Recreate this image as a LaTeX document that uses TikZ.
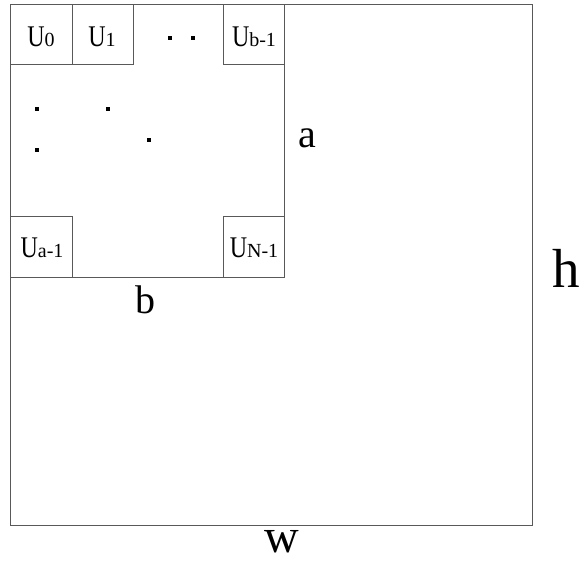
\documentclass[tikz,border=0pt]{standalone}
\usepackage{fontspec}
\usepackage{graphicx}
\setmainfont{Liberation Serif}
\tikzset{
  linecol/.style={draw=black!65, line width=1.2pt},
  cell/.style={linecol, rectangle, inner sep=0pt, anchor=north west},
  dotsq/.style={fill=black, inner sep=0pt, minimum size=4.5pt, rectangle},
  celltext/.style={inner sep=0pt, anchor=base},
  lbl/.style={inner sep=0pt, anchor=base, text depth=0pt, font=\fontsize{40}{40}\selectfont}
}
\newcommand{\ulab}[1]{\scalebox{0.8}[1]{\fontsize{30}{30}\selectfont U}{\fontsize{20}{20}\selectfont #1}}
\begin{document}
\begin{tikzpicture}[x=1pt,y=-1pt]
\useasboundingbox (0,0) rectangle (581,563);
% outer and inner rectangles
\node[linecol, rectangle, inner sep=0pt, minimum width=522pt, minimum height=521pt, anchor=north west] (outer) at (10,4) {};
\node[linecol, rectangle, inner sep=0pt, minimum width=274pt, minimum height=273pt, anchor=north west] (inner) at (10,4) {};
% cells
\node[cell, minimum width=62pt, minimum height=60pt] (u0) at (10,4) {};
\node[cell, minimum width=61pt, minimum height=60pt] (u1) at (72,4) {};
\node[cell, minimum width=61pt, minimum height=60pt] (ub) at (223,4) {};
\node[cell, minimum width=62pt, minimum height=61pt] (ua) at (10,216) {};
\node[cell, minimum width=61pt, minimum height=61pt] (un) at (223,216) {};
% cell labels
\node[celltext] (t0) at (41,46) {\ulab{0}};
\node[celltext] (t1) at (102,46) {\ulab{1}};
\node[celltext] (tb) at (254,46) {\ulab{b-1}};
\node[celltext] (ta) at (42,257) {\ulab{a-1}};
\node[celltext] (tn) at (254,257) {\ulab{N-1}};
% dots
\node[dotsq] (d1) at (170,38) {};
\node[dotsq] (d2) at (193,38) {};
\node[dotsq] (d3) at (37,109) {};
\node[dotsq] (d4) at (37,150) {};
\node[dotsq] (d5) at (108,109) {};
\node[dotsq] (d6) at (149,140) {};
% dimension labels
\node[lbl] (la) at (307,147) {a};
\node[lbl] (lb) at (145,313) {b};
\node[lbl, font=\fontsize{55}{55}\selectfont] (lh) at (566,287) {h};
\node[lbl, font=\fontsize{48}{48}\selectfont] (lw) at (282,552) {w};
\end{tikzpicture}
\end{document}
